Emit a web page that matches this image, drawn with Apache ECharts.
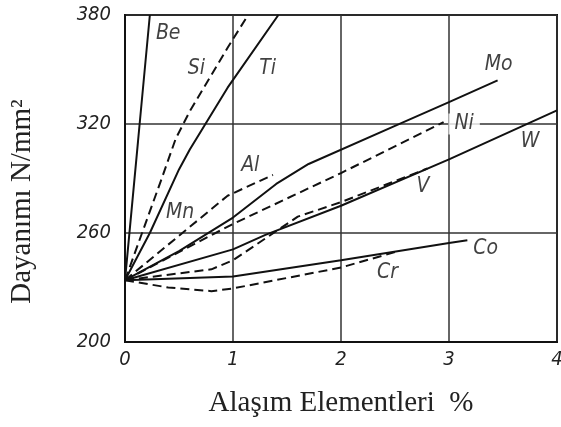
<!DOCTYPE html>
<html>
<head>
<meta charset="utf-8">
<script src="https://cdn.jsdelivr.net/npm/echarts@6/dist/echarts.min.js"></script>
<style>html,body{margin:0;padding:0;background:#fff}#c{width:561px;height:427px}</style>
</head>
<body>
<div id="c"></div>
<script>
// axis ticks
const xTicks = [0, 1, 2, 3, 4];
const yTicks = [200, 260, 320, 380];
const yBase = 200;

// series (x = % alloying element, y = strength N/mm2)
const Be = [[0,234],[0.23,380]];
const Si = [[0,234],[0.34,290],[0.47,312],[0.6,327],[0.95,362],[1.14,380]];
const Ti = [[0,234],[0.23,260],[0.5,295],[0.6,306],[0.95,340],[1.42,380]];
const Al = [[0,234],[0.95,280.5],[1.37,292]];
const Mo = [[0,234],[0.5,250],[1,268.5],[1.4,287],[1.7,298],[2.5,319],[3,332],[3.45,344]];
const Ni = [[0,234],[1,265],[2,293],[2.95,321]];
const W  = [[0,234],[1,251],[1.3,259],[2,275],[3,300.5],[4,327.5]];
const V  = [[0,234],[0.8,240],[1,245],[1.3,257],[1.6,269],[2,277],[2.8,295.5]];
const Co = [[0,234],[1,236],[2,245],[3,254.5],[3.17,256]];
const Cr = [[0,234],[0.4,230],[0.8,228],[1,229.5],[2,241],[2.5,249.5]];

// curve labels
const labelText = ['Be','Si','Ti','Mn','Al','Mo','Ni','W','V','Co','Cr'];
const labelX    = [0.40,0.66,1.32,0.51,1.16,3.46,3.14,3.75,2.76,3.34,2.43];
const labelY    = [370,350.5,350.5,271,297,352.5,320,310.6,285.3,251.7,238];

const tickFont = "'Liberation Sans Narrow','DejaVu Sans Condensed',sans-serif";
const serif = "'Liberation Serif','DejaVu Serif',serif";

function shift(arr){ return arr.map(p => [p[0], p[1] - yBase]); }

const lineDefs = [
  ['Be', Be, 'solid'], ['Si', Si, 'dashed'], ['Ti', Ti, 'solid'], ['Al', Al, 'dashed'],
  ['Mo', Mo, 'solid'], ['Ni', Ni, 'dashed'], ['W', W, 'solid'], ['V', V, 'dashed'],
  ['Co', Co, 'solid'], ['Cr', Cr, 'dashed']
];

const series = lineDefs.map(d => ({
  name: d[0], type: 'line', data: shift(d[1]), showSymbol: false, symbol: 'none',
  clip: true, silent: true, z: 3,
  lineStyle: { color: '#111', width: 2, type: d[2] === 'dashed' ? [9, 5] : 'solid' }
}));

series.push({
  name: 'labels', type: 'scatter', symbolSize: 0, silent: true, z: 5,
  data: labelText.map((t, i) => ({ value: [labelX[i], labelY[i] - yBase], name: t })),
  label: {
    show: true, position: 'inside', formatter: p => p.name,
    fontFamily: tickFont, fontStyle: 'italic', fontSize: 21, color: '#111'
  }
});
// white background for Ni label to interrupt grid line
series[series.length - 1].data[6].label = { backgroundColor: '#fff', padding: [0, 6] };

const chart = echarts.init(document.getElementById('c'), null, { renderer: 'canvas' });
chart.setOption({
  animation: false,
  backgroundColor: '#fff',
  grid: { left: 125, right: 4, top: 15, bottom: 85, outerBoundsMode: 'none', containLabel: false,
    show: true, borderColor: '#111', borderWidth: 2, backgroundColor: 'transparent' },
  xAxis: {
    type: 'value', min: xTicks[0], max: xTicks[xTicks.length - 1], interval: 1,
    name: 'Alaşım Elementleri  %', nameLocation: 'middle', nameGap: 47,
    nameTextStyle: { fontFamily: serif, fontSize: 29, color: '#222' },
    axisLine: { show: true, lineStyle: { color: '#111', width: 2 } },
    axisTick: { show: false },
    axisLabel: { fontFamily: tickFont, fontStyle: 'italic', fontSize: 20, color: '#222', margin: 8 },
    splitLine: { show: true, lineStyle: { color: '#333', width: 1.5 } }
  },
  yAxis: {
    type: 'value', min: 0, max: yTicks[yTicks.length - 1] - yBase, interval: yTicks[1] - yTicks[0],
    name: 'Dayanımı N/mm²', nameLocation: 'middle', nameGap: 88, nameRotate: 90,
    nameTextStyle: { fontFamily: serif, fontSize: 29, color: '#222', padding: [0, 46, 0, 0] },
    axisLine: { show: true, lineStyle: { color: '#111', width: 2 } },
    axisTick: { show: false },
    axisLabel: { fontFamily: tickFont, fontStyle: 'italic', fontSize: 20, color: '#222', margin: 14,
      formatter: v => String(v + yBase) },
    splitLine: { show: true, lineStyle: { color: '#333', width: 1.5 } }
  },
  series: series
});
</script>
</body>
</html>
